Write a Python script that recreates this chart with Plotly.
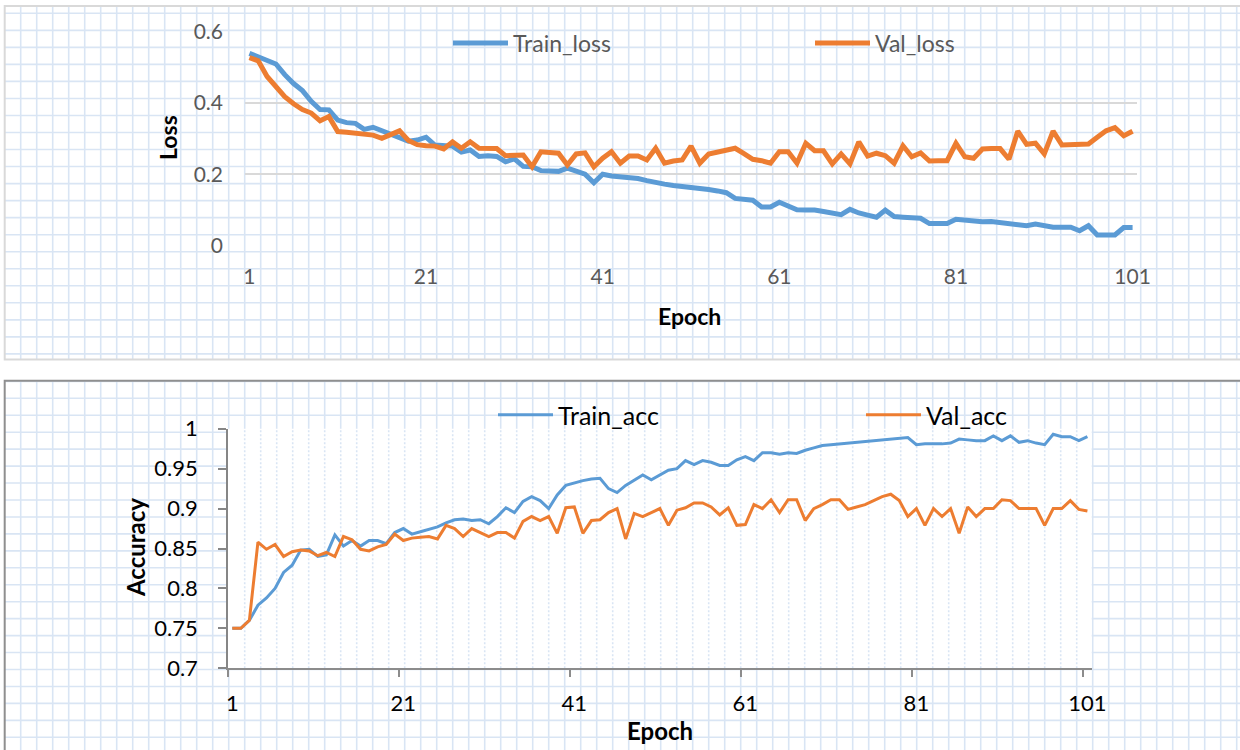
import plotly.graph_objects as go

W, H = 1240, 750

epochs = list(range(1, 102))
loss_tick_epochs = [1, 21, 41, 61, 81, 101]

train_loss = [0.540, 0.530, 0.520, 0.510, 0.480, 0.455, 0.435, 0.405, 0.382, 0.381,
              0.352, 0.345, 0.343, 0.326, 0.332, 0.322, 0.314, 0.305, 0.293, 0.296,
              0.304, 0.282, 0.279, 0.279, 0.262, 0.268, 0.250, 0.252, 0.250, 0.235,
              0.243, 0.222, 0.221, 0.210, 0.209, 0.208, 0.217, 0.210, 0.200, 0.176,
              0.200, 0.195, 0.193, 0.193, 0.188, 0.182, 0.176, 0.172, 0.168, 0.166,
              0.163, 0.160, 0.157, 0.153, 0.148, 0.132, 0.129, 0.127, 0.108, 0.108,
              0.121, 0.110, 0.100, 0.099, 0.099, 0.095, 0.090, 0.086, 0.101, 0.091,
              0.085, 0.079, 0.099, 0.081, 0.079, 0.078, 0.076, 0.061, 0.060, 0.061,
              0.073, 0.070, 0.066, 0.066, 0.067, 0.064, 0.060, 0.058, 0.055, 0.060,
              0.055, 0.051, 0.051, 0.051, 0.041, 0.055, 0.029, 0.029, 0.029, 0.050,
              0.050]

val_loss = [0.528, 0.519, 0.475, 0.445, 0.418, 0.398, 0.382, 0.372, 0.350, 0.362,
            0.320, 0.318, 0.316, 0.315, 0.310, 0.301, 0.310, 0.322, 0.295, 0.283,
            0.280, 0.279, 0.271, 0.291, 0.273, 0.291, 0.273, 0.272, 0.272, 0.252,
            0.253, 0.254, 0.221, 0.263, 0.261, 0.259, 0.226, 0.257, 0.260, 0.221,
            0.245, 0.263, 0.231, 0.251, 0.251, 0.240, 0.273, 0.231, 0.237, 0.240,
            0.279, 0.231, 0.257, 0.262, 0.268, 0.273, 0.258, 0.242, 0.238, 0.231,
            0.263, 0.263, 0.231, 0.287, 0.266, 0.266, 0.229, 0.257, 0.229, 0.291,
            0.251, 0.259, 0.252, 0.231, 0.280, 0.249, 0.260, 0.237, 0.238, 0.238,
            0.287, 0.249, 0.245, 0.271, 0.272, 0.272, 0.242, 0.321, 0.284, 0.287,
            0.257, 0.321, 0.282, 0.282, 0.284, 0.285, 0.304, 0.322, 0.331, 0.308,
            0.321]

train_acc = [0.750, 0.750, 0.760, 0.779, 0.788, 0.800, 0.820, 0.829, 0.848, 0.849,
             0.840, 0.842, 0.867, 0.853, 0.860, 0.853, 0.860, 0.860, 0.856, 0.870,
             0.875, 0.868, 0.871, 0.874, 0.877, 0.882, 0.886, 0.887, 0.885, 0.886,
             0.881, 0.890, 0.901, 0.895, 0.909, 0.915, 0.910, 0.900, 0.917, 0.929,
             0.932, 0.935, 0.937, 0.938, 0.925, 0.920, 0.929, 0.935, 0.942, 0.936,
             0.942, 0.948, 0.950, 0.960, 0.955, 0.960, 0.958, 0.954, 0.954, 0.961,
             0.965, 0.960, 0.970, 0.970, 0.968, 0.970, 0.969, 0.973, 0.976, 0.979,
             0.980, 0.981, 0.982, 0.983, 0.984, 0.985, 0.986, 0.987, 0.988, 0.989,
             0.980, 0.981, 0.981, 0.981, 0.982, 0.987, 0.986, 0.985, 0.985, 0.991,
             0.985, 0.991, 0.983, 0.985, 0.982, 0.980, 0.993, 0.990, 0.990, 0.985,
             0.990]

val_acc = [0.750, 0.750, 0.760, 0.858, 0.849, 0.855, 0.840, 0.846, 0.848, 0.847,
           0.841, 0.845, 0.840, 0.865, 0.861, 0.849, 0.847, 0.852, 0.855, 0.868,
           0.860, 0.863, 0.864, 0.865, 0.862, 0.879, 0.875, 0.865, 0.875, 0.870,
           0.865, 0.870, 0.870, 0.863, 0.884, 0.890, 0.885, 0.890, 0.869, 0.901,
           0.902, 0.869, 0.885, 0.886, 0.895, 0.900, 0.862, 0.894, 0.890, 0.895,
           0.900, 0.879, 0.898, 0.901, 0.907, 0.907, 0.902, 0.892, 0.901, 0.879,
           0.880, 0.905, 0.900, 0.911, 0.895, 0.911, 0.911, 0.885, 0.900, 0.905,
           0.911, 0.911, 0.899, 0.902, 0.905, 0.910, 0.915, 0.918, 0.910, 0.890,
           0.900, 0.879, 0.900, 0.890, 0.900, 0.869, 0.902, 0.890, 0.900, 0.900,
           0.911, 0.910, 0.900, 0.900, 0.900, 0.879, 0.900, 0.900, 0.910, 0.899,
           0.897]

loss_yticks = [0, 0.2, 0.4, 0.6]
acc_yticks = [0.7, 0.75, 0.8, 0.85, 0.9, 0.95, 1]

BLUE = "#5B9BD5"
ORANGE = "#ED7D31"
FONT = "Lato"
GRID_BLUE = "#d9e5f4"


def px(x):
    return x / W


def py(y):
    return 1 - y / H


# plot area boxes in pixels (left, top, right, bottom)
top_box = (245, 32, 1137, 245.3)
bot_box = (228, 428.7, 1091.7, 668.3)

fig = go.Figure()

fig.add_trace(go.Scatter(x=epochs, y=train_loss, name="Train_loss", mode="lines",
                         line=dict(color=BLUE, width=5), xaxis="x", yaxis="y",
                         legend="legend"))
fig.add_trace(go.Scatter(x=epochs, y=val_loss, name="Val_loss", mode="lines",
                         line=dict(color=ORANGE, width=5), xaxis="x", yaxis="y",
                         legend="legend"))
fig.add_trace(go.Scatter(x=epochs, y=train_acc, name="Train_acc", mode="lines",
                         line=dict(color=BLUE, width=3), xaxis="x2", yaxis="y2",
                         legend="legend2"))
fig.add_trace(go.Scatter(x=epochs, y=val_acc, name="Val_acc", mode="lines",
                         line=dict(color=ORANGE, width=3), xaxis="x2", yaxis="y2",
                         legend="legend2"))

# ---- background "graph paper" decoration ----
def grid_path(x_lo, x_hi, y_lo, y_hi, y_start, y_step, x_start=4.7, x_step=16.0):
    parts = []
    x = x_start + x_step
    while x < x_hi:
        if x > x_lo:
            parts.append(f"M{px(x):.5f},{py(y_lo):.5f}L{px(x):.5f},{py(y_hi):.5f}")
        x += x_step
    y = y_start
    while y < y_hi:
        if y > y_lo:
            parts.append(f"M{px(x_lo):.5f},{py(y):.5f}L{px(x_hi):.5f},{py(y):.5f}")
        y += y_step
    return "".join(parts)


shapes = []
shapes.append(dict(type="path", xref="paper", yref="paper", layer="below",
                   path=grid_path(4.7, 1245, 6, 359.5, 13.3, 17.03),
                   line=dict(color=GRID_BLUE, width=1.6)))
shapes.append(dict(type="path", xref="paper", yref="paper", layer="below",
                   path=grid_path(4.7, 1245, 380.7, 752, 381.35, 16.95),
                   line=dict(color=GRID_BLUE, width=1.6)))
# white plot area of the accuracy chart
shapes.append(dict(type="rect", xref="paper", yref="paper", layer="below",
                   x0=px(bot_box[0]), x1=px(bot_box[2]), y0=py(bot_box[3]), y1=py(bot_box[1]),
                   fillcolor="white", line=dict(width=0)))
# dotted vertical paper lines inside the accuracy plot area
dots = []
x = 4.7 + 16
while x < bot_box[2]:
    if x > bot_box[0] + 2:
        dots.append(f"M{px(x):.5f},{py(bot_box[3]):.5f}L{px(x):.5f},{py(bot_box[1]):.5f}")
    x += 16
shapes.append(dict(type="path", xref="paper", yref="paper", layer="below",
                   path="".join(dots), line=dict(color=GRID_BLUE, width=1.6, dash="2px,2px")))
# chart frames
shapes.append(dict(type="rect", xref="paper", yref="paper", layer="below",
                   x0=px(4.7), x1=px(1245), y0=py(359.5), y1=py(6),
                   line=dict(color="#d9d9d9", width=2)))
shapes.append(dict(type="rect", xref="paper", yref="paper", layer="below",
                   x0=px(4.7), x1=px(1245), y0=py(755), y1=py(380.7),
                   line=dict(color="#8f8f8f", width=2)))

annotations = [
    dict(text="<b>Loss</b>", x=px(168), y=py(138), xref="paper", yref="paper",
         xanchor="center", yanchor="middle",
         showarrow=False, textangle=-90, font=dict(family=FONT, size=23, color="black")),
    dict(text="<b>Epoch</b>", x=px(690), y=py(316), xref="paper", yref="paper",
         xanchor="center", yanchor="middle",
         showarrow=False, font=dict(family=FONT, size=23, color="black")),
    dict(text="<b>Accuracy</b>", x=px(135), y=py(548), xref="paper", yref="paper",
         xanchor="center", yanchor="middle",
         showarrow=False, textangle=-90, font=dict(family=FONT, size=24, color="black")),
    dict(text="<b>Epoch</b>", x=px(660), y=py(730), xref="paper", yref="paper",
         xanchor="center", yanchor="middle",
         showarrow=False, font=dict(family=FONT, size=24, color="black")),
]

fig.update_layout(
    width=W, height=H,
    margin=dict(l=0, r=0, t=0, b=0, autoexpand=False),
    paper_bgcolor="white",
    plot_bgcolor="rgba(0,0,0,0)",
    font=dict(family=FONT),
    shapes=shapes,
    annotations=annotations,
    xaxis=dict(domain=[px(top_box[0]), px(top_box[2])], anchor="y",
               range=[0.5, 101.5], tickmode="array", tickvals=loss_tick_epochs,
               showgrid=False, zeroline=False, showline=False, ticks="",
               ticklabelstandoff=17,
               tickfont=dict(family=FONT, size=21, color="#595959")),
    yaxis=dict(domain=[py(top_box[3]), py(top_box[1])], anchor="x",
               range=[0, 0.6], tickmode="array", tickvals=loss_yticks,
               showgrid=True, gridcolor="#d9d9d9", gridwidth=1.5,
               zeroline=False, showline=False, ticks="",
               ticklabelstandoff=21,
               tickfont=dict(family=FONT, size=21, color="#595959")),
    xaxis2=dict(domain=[px(bot_box[0]), px(bot_box[2])], anchor="y2",
                range=[0.5, 101.5], tickmode="array", tickvals=loss_tick_epochs,
                showgrid=False, zeroline=False, showline=True, linecolor="#8c8c8c",
                linewidth=1.5, ticks="", ticklabelstandoff=15,
                minor=dict(tick0=0.5, dtick=20, ticks="outside", ticklen=7,
                           tickcolor="#8c8c8c", tickwidth=1.5, showgrid=False),
                tickfont=dict(family=FONT, size=22, color="black")),
    yaxis2=dict(domain=[py(bot_box[3]), py(bot_box[1])], anchor="x2",
                range=[0.7, 1.0], tickmode="array", tickvals=acc_yticks,
                showgrid=False, zeroline=False, showline=True, linecolor="#868686",
                linewidth=1.5, ticks="outside", ticklen=8, tickcolor="#868686",
                tickwidth=1.5, ticklabelstandoff=16,
                tickfont=dict(family=FONT, size=22, color="black")),
    legend=dict(orientation="h", x=px(448), y=py(43), xanchor="left", yanchor="middle",
                bgcolor="rgba(0,0,0,0)", entrywidth=292, entrywidthmode="pixels",
                itemwidth=55, font=dict(family=FONT, size=23, color="#595959")),
    legend2=dict(orientation="h", x=px(493), y=py(415), xanchor="left", yanchor="middle",
                 bgcolor="rgba(0,0,0,0)", entrywidth=298, entrywidthmode="pixels",
                 itemwidth=55, font=dict(family=FONT, size=25, color="black")),
    showlegend=True,
)

fig.write_html("out.html", config={"displayModeBar": False},
               post_script="document.body.style.margin='0px';")
